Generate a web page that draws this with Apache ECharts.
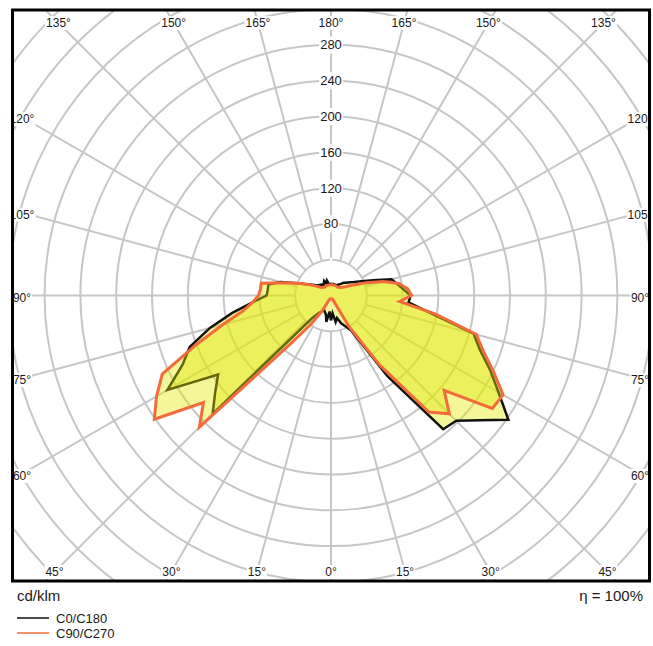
<!DOCTYPE html>
<html><head><meta charset="utf-8">
<script src="https://cdn.jsdelivr.net/npm/echarts@6/dist/echarts.min.js"></script>
<style>html,body{margin:0;padding:0;background:#fff}#chart{width:653px;height:646px}</style>
</head><body><div id="chart"></div>
<script>
// ---- data (cd/klm) ----
const GAMMA = [0,5,10,15,20,25,30,35,40,45,50,55,60,65,70,75,80,85,90,95,100,105,110,115,120,125,130,135,140,145,150,155,160,165,170,175,180];
// black curve: C0 (right half), C180 (left half)
const C0   = [28,20,30,26,33,38,45,110,195,198,217,242,216,196,177,165,113,87,89,81,75,70,50,38,30,26,22,20,17,15,13,13,13,13,13,13,13];
const C180 = [28,18,30,22,20,18,20,24,34,187,169,154,211,183,168,140,112,88,72,71,71,58,40,30,24,20,18,17,16,14,16,18,14,17,13,13,13];
// orange curve: C90 (right half), C270 (left half)
const C90  = [4,4,4,4,4,6,40,95,170,187,165,220,222,200,181,168,118,77,90,86,77,60,42,28,20,16,14,13,12,12,12,12,12,12,12,12,12];
const C270 = [4,4,4,4,4,6,20,40,71,208,186,241,225,208,160,125,100,88,81,79,79,55,40,30,22,17,14,13,12,12,12,12,12,12,12,12,12];
const RADIUS_LABELS = [80,120,160,200,240,280];
const ANGLE_TICKS = [0,15,30,45,60,75,90,105,120,135,150,165,180];
const SERIES_NAMES = ['C0/C180','C90/C270'];
const UNIT_TEXT = 'cd/klm';
const EFF_TEXT = 'η = 100%';

// ---- layout ----
const FONT = '"Liberation Sans", Arial, Helvetica, sans-serif';
const CENTER = [331, 295.5];
const PX_PER_UNIT = 0.895;
const R_MAX = 480, R_STEP = 40;
const FRAME = {x: 12.5, y: 10, w: 637, h: 571};
const LABEL_BOX = {left: 22, right: 640, top: 23, bottom: 572};
const W = 653, H = 646;

function loop(left, right) {
  const pts = [];
  for (let i = 0; i < GAMMA.length; i++) pts.push([left[i], 180 - GAMMA[i]]);
  for (let i = GAMMA.length - 1; i >= 0; i--) pts.push([right[i], 180 + GAMMA[i]]);
  return pts;
}

function labelPos(side, g) {
  const a = (-90 + side * g) * Math.PI / 180;
  const dx = Math.cos(a), dy = -Math.sin(a);
  const tx = dx > 1e-9 ? (LABEL_BOX.right - CENTER[0]) / dx : dx < -1e-9 ? (LABEL_BOX.left - CENTER[0]) / dx : Infinity;
  const ty = dy > 1e-9 ? (LABEL_BOX.bottom - CENTER[1]) / dy : dy < -1e-9 ? (LABEL_BOX.top - CENTER[1]) / dy : Infinity;
  const t = Math.min(tx, ty);
  const onSide = tx < ty;
  return [CENTER[0] + dx * t, CENTER[1] + dy * t + (onSide ? 2 : 0)];
}

const graphics = [];
ANGLE_TICKS.forEach(g => {
  const sides = (g === 0 || g === 180) ? [1] : [1, -1];
  sides.forEach(s => {
    const p = labelPos(s, g);
    graphics.push({type: 'text', x: p[0], y: p[1], z: 50,
      style: {text: g + '°', font: '12px ' + FONT, fill: '#1a1a1a', align: 'center', verticalAlign: 'middle',
              backgroundColor: '#fff', padding: [1, 1]}});
  });
});
// white masks outside the frame
[[0, 0, W, FRAME.y], [0, FRAME.y + FRAME.h, W, H - FRAME.y - FRAME.h], [0, 0, FRAME.x, H], [FRAME.x + FRAME.w, 0, W - FRAME.x - FRAME.w, H]]
  .forEach(r => graphics.push({type: 'rect', z: 60, shape: {x: r[0], y: r[1], width: r[2], height: r[3]}, style: {fill: '#fff'}}));
graphics.push({type: 'rect', z: 61, shape: {x: FRAME.x, y: FRAME.y, width: FRAME.w, height: FRAME.h}, style: {fill: 'none', stroke: '#000', lineWidth: 3}});
graphics.push({type: 'text', z: 70, x: 17, y: 595, style: {text: UNIT_TEXT, font: '15px ' + FONT, fill: '#1a1a1a', align: 'left', verticalAlign: 'middle'}});
graphics.push({type: 'text', z: 70, x: 643, y: 595, style: {text: EFF_TEXT, font: '15px ' + FONT, fill: '#1a1a1a', align: 'right', verticalAlign: 'middle'}});

const FILL = 'rgba(226,232,0,0.4)';
const GRID = '#c6c6c6';
const chart = echarts.init(document.getElementById('chart'), null, {renderer: 'svg', width: W, height: H});
chart.setOption({
  animation: false,
  textStyle: {fontFamily: FONT},
  polar: [
    {center: CENTER, radius: [R_STEP * PX_PER_UNIT, R_MAX * PX_PER_UNIT]},
    {center: CENTER, radius: [0, R_MAX * PX_PER_UNIT]}
  ],
  angleAxis: [
    {polarIndex: 0, type: 'value', min: 0, max: 360, interval: 15, startAngle: 90, clockwise: false, z: 0,
     axisLine: {show: false}, axisTick: {show: false}, axisLabel: {show: false},
     splitLine: {show: true, lineStyle: {color: GRID, width: 2}}},
    {polarIndex: 1, type: 'value', min: 0, max: 360, interval: 15, startAngle: 90, clockwise: false, show: false}
  ],
  radiusAxis: [
    {polarIndex: 0, type: 'value', min: 0, max: 1, show: false},
    {polarIndex: 1, type: 'value', min: 0, max: R_MAX, interval: R_STEP, z: 1,
     axisLine: {show: false}, axisTick: {show: false},
     splitLine: {show: true, lineStyle: {color: GRID, width: 2}},
     axisLabel: {margin: 0, align: 'center', verticalAlign: 'middle', fontSize: 13, color: '#1a1a1a',
                 backgroundColor: '#fff', padding: [4, 1, 0, 1], fontFamily: FONT,
                 formatter: v => RADIUS_LABELS.includes(v) ? String(v) : ''}}
  ],
  legend: {left: 17, top: 610.5, orient: 'vertical', padding: 0, itemGap: 0, itemWidth: 32, itemHeight: 1.5,
           icon: 'rect', z: 70, selectedMode: false, data: SERIES_NAMES,
           textStyle: {fontSize: 13, lineHeight: 15, color: '#1a1a1a', fontFamily: FONT, padding: [0, 0, 0, 2]}},
  graphic: graphics,
  series: [
    {name: SERIES_NAMES[0], type: 'line', coordinateSystem: 'polar', polarIndex: 1, data: loop(C180, C0),
     symbol: 'none', showSymbol: false, silent: true, z: 2,
     lineStyle: {color: '#111', width: 2.5, join: 'miter', miterLimit: 4}, itemStyle: {color: '#111'},
     areaStyle: {color: FILL, opacity: 1}},
    {name: SERIES_NAMES[1], type: 'line', coordinateSystem: 'polar', polarIndex: 1, data: loop(C270, C90),
     symbol: 'none', showSymbol: false, silent: true, z: 3,
     lineStyle: {color: '#f26b3a', width: 3, join: 'miter', miterLimit: 4}, itemStyle: {color: '#f26b3a'},
     areaStyle: {color: FILL, opacity: 1}}
  ]
});
</script></body></html>
